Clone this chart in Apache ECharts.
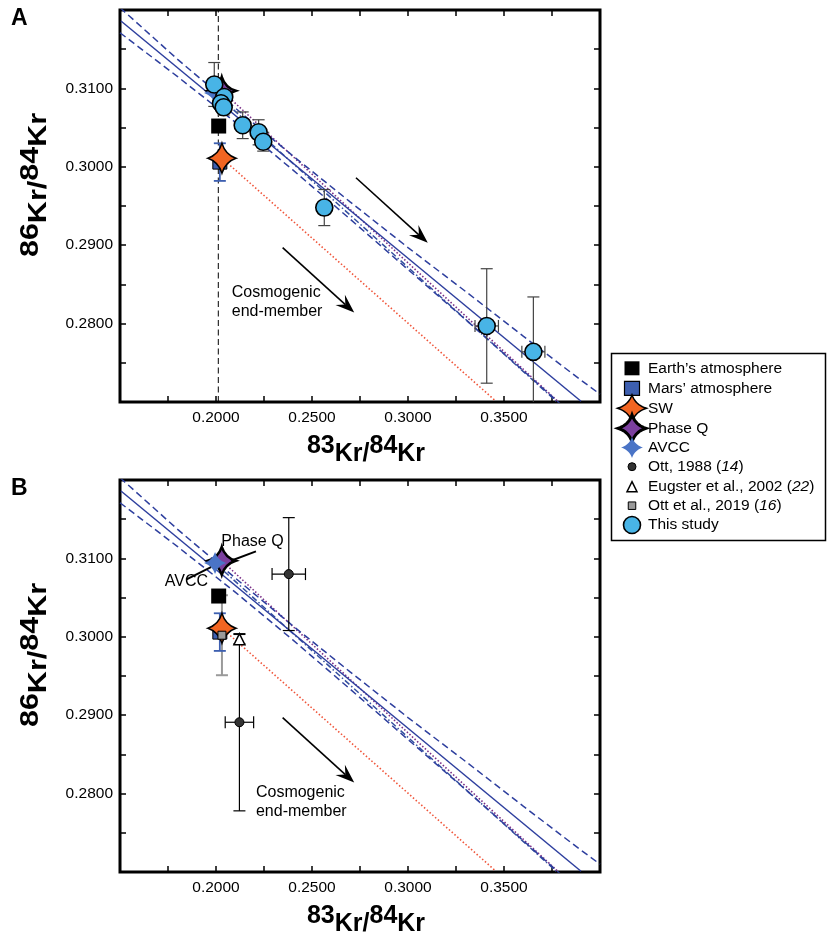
<!DOCTYPE html>
<html><head><meta charset="utf-8">
<script src="https://cdn.jsdelivr.net/npm/echarts@6/dist/echarts.min.js"></script>
<style>html,body{margin:0;padding:0;background:#fff}#c{width:827px;height:939px}</style>
</head><body><div id="c"></div>
<script>
// ---------------- data ----------------
const xTickLabels = ['0.2000', '0.2500', '0.3000', '0.3500'];
const yTickLabels = ['0.2800', '0.2900', '0.3000', '0.3100'];

// This study (panel A)
const studyX    = [0.1991, 0.2043, 0.2026, 0.2040, 0.2139, 0.2222, 0.2246, 0.2564, 0.3410, 0.3653];
const studyY    = [0.3105, 0.3089, 0.3081, 0.3076, 0.3053, 0.3044, 0.3032, 0.2948, 0.2797, 0.2764];
const studyXErr = [0, 0, 0, 0, 0, 0, 0, 0, 0.0061, 0.0060];
const studyYErr = [0.0028, 0.0008, 0.0008, 0.0010, 0.0017, 0.0016, 0.0012, 0.0023, 0.0073, 0.0070];

// Reference compositions
const earthAtm = [0.2014, 0.3052];
const marsAtm  = [0.2020, 0.3006]; const marsYErr = 0.0024;
const solarWind = [0.2031, 0.3011];
const phaseQ   = [0.2030, 0.3097];
const avcc     = [0.1995, 0.3094];

// Literature (panel B)
const ott1988X = [0.2379, 0.2122];
const ott1988Y = [0.3080, 0.2891];
const ott1988XErr = [0.0087, 0.0074];
const ott1988YErr = [0.0072, 0.0113];
const eugster2002 = [0.2122, 0.2997]; const eugsterYErr = 0.0006;
const ott2019 = [0.2031, 0.3002]; const ott2019YErr = 0.0051;

// Lines
const regressionLine = [[0.1505, 0.3186], [0.3901, 0.2701]];
const bandUpper = [[0.15, 0.3203], [0.18, 0.3137], [0.21, 0.3075], [0.24, 0.3014], [0.27, 0.2955],
                   [0.30, 0.2897], [0.33, 0.2841], [0.36, 0.2784], [0.39, 0.2728], [0.40, 0.2710]];
const bandLower = [[0.15, 0.3171], [0.18, 0.3115], [0.21, 0.3057], [0.24, 0.2996], [0.27, 0.2933],
                   [0.30, 0.2869], [0.33, 0.2805], [0.36, 0.2740], [0.39, 0.2674], [0.40, 0.2652]];
const phaseQMixLine = [[0.2030, 0.3097], [0.3780, 0.2701]];
const avccMixLine   = [[0.1995, 0.3094], [0.3772, 0.2701]];
const swMixLine     = [[0.2031, 0.3011], [0.3458, 0.2701]];
const atmVertical   = [[0.2012, 0.27], [0.2012, 0.32]];

// Annotations (data coordinates)
const arrowsA = [[[0.2729, 0.2986], [0.3103, 0.2903]], [[0.2347, 0.2897], [0.2720, 0.2814]]];
const arrowsB = [[[0.2347, 0.2897], [0.2720, 0.2814]]];
const cosmoTextA = [0.2082, 0.2828];
const cosmoTextB = [0.2208, 0.2789];

// ---------------- styling ----------------
const FONT = '"Liberation Sans", Arial, Helvetica, sans-serif';
const STAR = 'M0,-10 Q2.4,-2.4 10,0 Q2.4,2.4 0,10 Q-2.4,2.4 -10,0 Q-2.4,-2.4 0,-10 Z';
const C = {
  cyan: '#48b4e6', orange: '#f26522', purple: '#7b3f9e', avcc: '#4a74c6', mars: '#3d5fb0',
  reg: '#2e3f9e', purpleLine: '#7a2e86', dashdot: '#34509f', red: '#f0553a'
};

const chart = echarts.init(document.getElementById('c'));

function xAx(gi, pos, labels) {
  return {
    type: 'value', gridIndex: gi, position: pos, min: 0.15, max: 0.40, interval: 0.025,
    axisLine: { show: false, onZero: false },
    axisTick: { show: true, inside: true, length: 6, lineStyle: { color: '#000', width: 1.5 } },
    axisLabel: {
      show: labels, margin: 8, color: '#000', fontSize: 15.5, fontFamily: FONT,
      formatter: v => xTickLabels.includes(v.toFixed(4)) ? v.toFixed(4) : ''
    },
    splitLine: { show: false }
  };
}
function yAx(gi, pos, labels) {
  return {
    type: 'value', gridIndex: gi, position: pos, min: 0.27, max: 0.32, interval: 0.005,
    axisLine: { show: false, onZero: false },
    axisTick: { show: true, inside: true, length: 6, lineStyle: { color: '#000', width: 1.5 } },
    axisLabel: {
      show: labels, margin: 7, color: '#000', fontSize: 15.5, fontFamily: FONT,
      formatter: v => yTickLabels.includes(v.toFixed(4)) ? v.toFixed(4) : ''
    },
    splitLine: { show: false }
  };
}
function lineS(id, name, data, p, style) {
  return { type: 'line', id, name, xAxisIndex: p * 2, yAxisIndex: p * 2, data, symbol: 'none',
           lineStyle: style, silent: true, clip: true, z: 1 };
}
function errS(name, data, p, color, lw, cap) {
  return {
    type: 'custom', name, xAxisIndex: p * 2, yAxisIndex: p * 2, data, clip: true, silent: true, z: 2,
    encode: { x: 0, y: 1 },
    renderItem: (params, api) => {
      const x = api.value(0), y = api.value(1), xe = api.value(2), ye = api.value(3);
      const st = { stroke: color, lineWidth: lw, fill: null };
      const ch = [];
      if (ye > 0) {
        const a = api.coord([x, y + ye]), b = api.coord([x, y - ye]);
        ch.push({ type: 'line', shape: { x1: a[0], y1: a[1], x2: b[0], y2: b[1] }, style: st });
        ch.push({ type: 'line', shape: { x1: a[0] - cap, y1: a[1], x2: a[0] + cap, y2: a[1] }, style: st });
        ch.push({ type: 'line', shape: { x1: b[0] - cap, y1: b[1], x2: b[0] + cap, y2: b[1] }, style: st });
      }
      if (xe > 0) {
        const a = api.coord([x - xe, y]), b = api.coord([x + xe, y]);
        ch.push({ type: 'line', shape: { x1: a[0], y1: a[1], x2: b[0], y2: b[1] }, style: st });
        ch.push({ type: 'line', shape: { x1: a[0], y1: a[1] - cap, x2: a[0], y2: a[1] + cap }, style: st });
        ch.push({ type: 'line', shape: { x1: b[0], y1: b[1] - cap, x2: b[0], y2: b[1] + cap }, style: st });
      }
      return { type: 'group', children: ch };
    }
  };
}
function scat(name, data, p, symbol, size, color, border, bw, z) {
  return { type: 'scatter', name, xAxisIndex: p * 2, yAxisIndex: p * 2, data, symbol, symbolSize: size,
           itemStyle: { color, borderColor: border, borderWidth: bw, opacity: 1 }, silent: true, z: z || 3 };
}
function commonLines(p) {
  const s = p === 0 ? 'A' : 'B';
  return [
    lineS('swMix' + s, 'SW mixing', swMixLine, p, { color: C.red, width: 1.6, type: [1.5, 2.2] }),
    lineS('avccMix' + s, 'AVCC mixing', avccMixLine, p, { color: C.dashdot, width: 1.5, type: [6, 2.5, 1.5, 2.5] }),
    lineS('pqMix' + s, 'Phase Q mixing', phaseQMixLine, p, { color: C.purpleLine, width: 1.6, type: [1.5, 2] }),
    lineS('up' + s, 'Upper bound', bandUpper, p, { color: C.reg, width: 1.5, type: [7, 4] }),
    lineS('lo' + s, 'Lower bound', bandLower, p, { color: C.reg, width: 1.5, type: [7, 4] }),
    lineS('reg' + s, 'Regression', regressionLine, p, { color: C.reg, width: 1.5, type: 'solid' })
  ];
}

const studyData = studyX.map((x, i) => [x, studyY[i], studyXErr[i], studyYErr[i]]);
const ottData = ott1988X.map((x, i) => [x, ott1988Y[i], ott1988XErr[i], ott1988YErr[i]]);
const SYM_STAR = 'path://' + STAR;

const series = [
  // ---- Panel A ----
  lineS('vertA', 'Atmospheric 83Kr/84Kr', atmVertical, 0, { color: '#000', width: 1, type: [6, 3.5] }),
  ...commonLines(0),
  errS('Mars’ atmosphere err', [[marsAtm[0], marsAtm[1], 0, marsYErr]], 0, C.mars, 1.8, 6),
  scat('Phase Q', [phaseQ], 0, SYM_STAR, [28, 28], C.purple, '#000', 2.5),
  scat('AVCC', [avcc], 0, SYM_STAR, [22, 22], C.avcc, C.avcc, 0),
  scat('Earth’s atmosphere', [earthAtm], 0, 'rect', [15, 15], '#000', '#000', 0),
  scat('Mars’ atmosphere', [marsAtm], 0, 'rect', [14, 14], C.mars, '#000', 1),
  scat('SW', [solarWind], 0, SYM_STAR, [28, 30], C.orange, '#000', 1.5),
  errS('This study err', studyData, 0, '#444', 1.2, 6),
  Object.assign(scat('This study', studyData, 0, 'circle', 17, C.cyan, '#000', 1.6, 4), { encode: { x: 0, y: 1 } }),
  // ---- Panel B ----
  ...commonLines(1),
  errS('Ott 2019 err', [[ott2019[0], ott2019[1], 0, ott2019YErr]], 1, '#9a9a9a', 2, 6),
  errS('Mars’ atmosphere err B', [[marsAtm[0], marsAtm[1], 0, marsYErr]], 1, C.mars, 1.8, 6),
  errS('Ott 1988 err', ottData, 1, '#000', 1.2, 6),
  errS('Eugster 2002 err', [[eugster2002[0], eugster2002[1], 0, eugsterYErr]], 1, '#000', 1.2, 6),
  scat('Phase Q', [phaseQ], 1, SYM_STAR, [28, 28], C.purple, '#000', 2.5),
  scat('AVCC', [avcc], 1, SYM_STAR, [22, 22], C.avcc, C.avcc, 0),
  scat('Earth’s atmosphere', [earthAtm], 1, 'rect', [15, 15], '#000', '#000', 0),
  scat('Mars’ atmosphere', [marsAtm], 1, 'rect', [14, 14], C.mars, '#000', 1),
  scat('SW', [solarWind], 1, SYM_STAR, [28, 30], C.orange, '#000', 1.5),
  scat('Ott et al., 2019', [ott2019], 1, 'rect', [8, 8], '#9a9a9a', '#000', 1, 4),
  scat('Eugster et al., 2002', [eugster2002], 1, 'triangle', [11, 11], '#fff', '#000', 1.5, 4),
  Object.assign(scat('Ott, 1988', ottData, 1, 'circle', 9, '#333', '#000', 1, 4), { encode: { x: 0, y: 1 } })
];

chart.setOption({
  animation: false,
  backgroundColor: '#fff',
  grid: [
    { left: 120, top: 10, width: 480, height: 392, show: true, borderColor: '#000', borderWidth: 3 },
    { left: 120, top: 480, width: 480, height: 392, show: true, borderColor: '#000', borderWidth: 3 }
  ],
  xAxis: [xAx(0, 'bottom', true), xAx(0, 'top', false), xAx(1, 'bottom', true), xAx(1, 'top', false)],
  yAxis: [yAx(0, 'left', true), yAx(0, 'right', false), yAx(1, 'left', true), yAx(1, 'right', false)],
  series
});

// ---------------- annotations / legend (graphics) ----------------
const pxA = v => chart.convertToPixel({ seriesId: 'regA' }, v);
const pxB = v => chart.convertToPixel({ seriesId: 'regB' }, v);

// star outline (same shape as the STAR symbol) as polygon points for legend icons
function starPoly(cx, cy, w, h) {
  const tips = [[0, -1], [1, 0], [0, 1], [-1, 0]];
  const k = 0.24, pts = [];
  for (let i = 0; i < 4; i++) {
    const p0 = tips[i], p2 = tips[(i + 1) % 4];
    const c = [(p0[0] + p2[0]) * k, (p0[1] + p2[1]) * k];
    for (let t = 0; t < 1; t += 0.1) {
      const a = (1 - t) * (1 - t), b = 2 * (1 - t) * t, d = t * t;
      pts.push([cx + (a * p0[0] + b * c[0] + d * p2[0]) * w / 2, cy + (a * p0[1] + b * c[1] + d * p2[1]) * h / 2]);
    }
  }
  return pts;
}
function arrow(p0, p1) {
  const dx = p1[0] - p0[0], dy = p1[1] - p0[1], L = Math.hypot(dx, dy);
  const ux = dx / L, uy = dy / L, nx = -uy, ny = ux;
  const headLen = 19, headW = 7, notch = 12;
  const base = [p1[0] - ux * headLen, p1[1] - uy * headLen];
  const l = [base[0] + nx * headW, base[1] + ny * headW];
  const r = [base[0] - nx * headW, base[1] - ny * headW];
  const n = [p1[0] - ux * notch, p1[1] - uy * notch];
  return [
    { type: 'line', shape: { x1: p0[0], y1: p0[1], x2: n[0], y2: n[1] }, style: { stroke: '#000', lineWidth: 1.6 }, z: 10 },
    { type: 'polygon', shape: { points: [p1, l, n, r] }, style: { fill: '#000' }, z: 10 }
  ];
}
function txt(x, y, text, extraStyle) {
  return { type: 'text', x, y, z: 10,
    style: Object.assign({ text, fill: '#000', fontSize: 16, fontFamily: FONT, align: 'left', verticalAlign: 'middle' }, extraStyle || {}) };
}
const titleRich = {
  s: { fontSize: 25, fontWeight: 'bold', fontFamily: FONT, fill: '#000', padding: [0, 0, 8, 0] },
  b: { fontSize: 25, fontWeight: 'bold', fontFamily: FONT, fill: '#000', padding: [8, 0, 0, 0] }
};
function axTitle(x, y, num1, num2, rot, sx) {
  return { type: 'text', x, y, rotation: rot, scaleX: sx, z: 10,
    style: { text: '{s|' + num1 + '}{b|Kr/}{s|' + num2 + '}{b|Kr}', rich: titleRich, align: 'center', verticalAlign: 'middle' } };
}

const g = [];
// panel letters
g.push(txt(11, 19, 'A', { fontSize: 23, fontWeight: 'bold' }));
g.push(txt(11, 489, 'B', { fontSize: 23, fontWeight: 'bold' }));
// axis titles
g.push(axTitle(366, 450, '83', '84', 0, 1));
g.push(axTitle(366, 920, '83', '84', 0, 1));
g.push(axTitle(35, 185, '86', '84', Math.PI / 2, 1.22));
g.push(axTitle(35, 655, '86', '84', Math.PI / 2, 1.22));
// arrows
arrowsA.forEach(a => g.push(...arrow(pxA(a[0]), pxA(a[1]))));
arrowsB.forEach(a => g.push(...arrow(pxB(a[0]), pxB(a[1]))));
// cosmogenic text
const ctA = pxA(cosmoTextA), ctB = pxB(cosmoTextB);
g.push(txt(ctA[0], ctA[1], 'Cosmogenic\nend-member', { lineHeight: 19 }));
g.push(txt(ctB[0], ctB[1], 'Cosmogenic\nend-member', { lineHeight: 19 }));
// Phase Q / AVCC labels in panel B
const pqLab = pxB([0.2190, 0.3121]), pqL0 = pxB([0.2078, 0.3097]), pqL1 = pxB([0.2208, 0.3109]);
const avLab = pxB([0.1846, 0.3070]), avL0 = pxB([0.1844, 0.3073]), avL1 = pxB([0.1974, 0.3089]);
g.push(txt(pqLab[0], pqLab[1], 'Phase Q', { align: 'center' }));
g.push(txt(avLab[0], avLab[1], 'AVCC', { align: 'center' }));
g.push({ type: 'line', z: 10, shape: { x1: pqL0[0], y1: pqL0[1], x2: pqL1[0], y2: pqL1[1] }, style: { stroke: '#000', lineWidth: 2 } });
g.push({ type: 'line', z: 10, shape: { x1: avL0[0], y1: avL0[1], x2: avL1[0], y2: avL1[1] }, style: { stroke: '#000', lineWidth: 2 } });

// legend box
g.push({ type: 'rect', z: 20, shape: { x: 611.5, y: 353.5, width: 214, height: 187 }, style: { fill: '#fff', stroke: '#000', lineWidth: 1.5 } });
const LX = 632, TX = 648;
const legendRows = [
  { y: 368.3, text: 'Earth’s atmosphere', icon: { type: 'rect', w: 15, h: 14, fill: '#000', stroke: '#000', lw: 0 } },
  { y: 388.3, text: 'Mars’ atmosphere', icon: { type: 'rect', w: 15, h: 14, fill: C.mars, stroke: '#000', lw: 1.2 } },
  { y: 408.3, text: 'SW', icon: { type: 'star', w: 29, h: 27, fill: C.orange, stroke: '#000', lw: 1.5 } },
  { y: 428.3, text: 'Phase Q', icon: { type: 'star', w: 28, h: 27, fill: C.purple, stroke: '#000', lw: 3 } },
  { y: 447.5, text: 'AVCC', icon: { type: 'star', w: 22, h: 21, fill: C.avcc, stroke: C.avcc, lw: 0 } },
  { y: 466.7, text: '{n|Ott, 1988 (}{i|14}{n|)}', icon: { type: 'circle', r: 4, fill: '#333', stroke: '#000', lw: 1 } },
  { y: 486.7, text: '{n|Eugster et al., 2002 (}{i|22}{n|)}', icon: { type: 'tri', w: 10, h: 10, fill: '#fff', stroke: '#000', lw: 1.5 } },
  { y: 505.7, text: '{n|Ott et al., 2019 (}{i|16}{n|)}', icon: { type: 'rect', w: 7.5, h: 7.5, fill: '#9a9a9a', stroke: '#000', lw: 1 } },
  { y: 525.0, text: 'This study', icon: { type: 'circle', r: 8.5, fill: C.cyan, stroke: '#000', lw: 1.6 } }
];
const legRich = {
  n: { fontSize: 15.5, fontFamily: FONT, fill: '#000' },
  i: { fontSize: 15.5, fontFamily: FONT, fontStyle: 'italic', fill: '#000' }
};
legendRows.forEach(r => {
  const ic = r.icon;
  const st = { fill: ic.fill, stroke: ic.lw > 0 ? ic.stroke : null, lineWidth: ic.lw };
  if (ic.type === 'rect') g.push({ type: 'rect', z: 21, shape: { x: LX - ic.w / 2, y: r.y - ic.h / 2, width: ic.w, height: ic.h }, style: st });
  else if (ic.type === 'circle') g.push({ type: 'circle', z: 21, shape: { cx: LX, cy: r.y, r: ic.r }, style: st });
  else if (ic.type === 'tri') g.push({ type: 'polygon', z: 21, shape: { points: [[LX, r.y - ic.h / 2], [LX + ic.w / 2, r.y + ic.h / 2], [LX - ic.w / 2, r.y + ic.h / 2]] }, style: st });
  else g.push({ type: 'polygon', z: 21, shape: { points: starPoly(LX, r.y, ic.w, ic.h) }, style: st });
  g.push({ type: 'text', z: 22, x: TX, y: r.y, style: { text: r.text.indexOf('{') === 0 ? r.text : '{n|' + r.text + '}', rich: legRich, align: 'left', verticalAlign: 'middle' } });
});

chart.setOption({ graphic: g });
</script>
</body></html>
